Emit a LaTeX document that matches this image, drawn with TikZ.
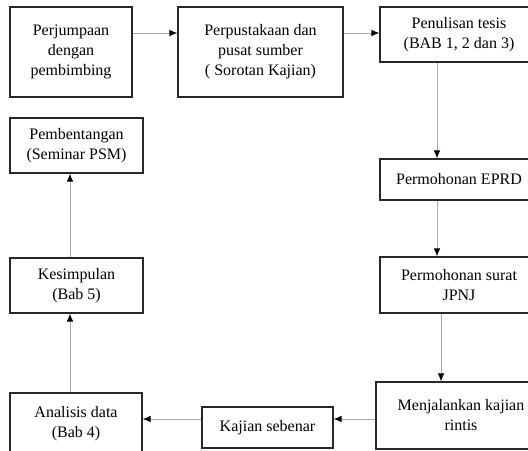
\documentclass[tikz,border=0pt]{standalone}
\usepackage{fontspec}
\setmainfont{Liberation Serif}
\usetikzlibrary{arrows.meta}

\tikzset{
  box/.style={draw={rgb, 255:red, 40; green, 40; blue, 40}, line width=0.9pt, rectangle, align=center, inner sep=0.75pt, font=\fontsize{12}{15}\selectfont},
  flow/.style={draw={rgb, 255:red, 170; green, 170; blue, 170}, line width=0.75pt, -{Latex[length=6pt,width=5pt,color=black]}}
}

\begin{document}
\begin{tikzpicture}[x=0.75pt,y=0.75pt,yscale=-1,xscale=1]
%set diagram at 528 x 450
\path[use as bounding box, clip] (0,0) rectangle (528,450);

%Shape: Rectangle [id:jumpa] 
\node[box, minimum width=91.5pt, minimum height=67.5pt] (jumpa) at (71,52) {Perjumpaan\\dengan\\pembimbing};
%Shape: Rectangle [id:pustaka] 
\node[box, minimum width=123.75pt, minimum height=67.5pt] (pustaka) at (260.5,52) {Perpustakaan dan\\pusat sumber\\( Sorotan Kajian)};
%Shape: Rectangle [id:tesis] 
\node[box, minimum width=118.5pt, minimum height=41.25pt] (tesis) at (459,34.5) {Penulisan tesis\\(BAB 1, 2 dan 3)};
%Shape: Rectangle [id:eprd] 
\node[box, minimum width=118.5pt, minimum height=30.75pt] (eprd) at (459,179.5) {Permohonan EPRD};
%Shape: Rectangle [id:surat] 
\node[box, minimum width=118.5pt, minimum height=42pt] (surat) at (459,285) {Permohonan surat\\JPNJ};
%Shape: Rectangle [id:rintis] 
\node[box, minimum width=127.5pt, minimum height=50.25pt] (rintis) at (461,415.5) {Menjalankan kajian\\rintis};
%Shape: Rectangle [id:sebenar] 
\node[box, minimum width=98.25pt, minimum height=30.75pt] (sebenar) at (267.5,427.5) {Kajian sebenar};
%Shape: Rectangle [id:analisis] 
\node[box, minimum width=99pt, minimum height=46.5pt] (analisis) at (76,424) {Analisis data\\(Bab 4)};
%Shape: Rectangle [id:simpul] 
\node[box, minimum width=99.75pt, minimum height=41.25pt] (simpul) at (76.5,285.5) {Kesimpulan\\(Bab 5)};
%Shape: Rectangle [id:bentang] 
\node[box, minimum width=99.75pt, minimum height=41.25pt] (bentang) at (76.5,145.5) {Pembentangan\\(Seminar PSM)};

%rows and columns of the connectors
\coordinate (toprow) at (0,33);
\coordinate (botrow) at (0,419);
\coordinate (rcol) at (437,0);
\coordinate (rcolb) at (441,0);
\coordinate (lcol) at (70,0);

%Straight Lines [id:jumpa-pustaka] 
\draw[flow] (jumpa.east |- toprow) -- (pustaka.west |- toprow);
%Straight Lines [id:pustaka-tesis] 
\draw[flow] (pustaka.east |- toprow) -- (tesis.west |- toprow);
%Straight Lines [id:tesis-eprd] 
\draw[flow] (tesis.south -| rcol) -- (eprd.north -| rcol);
%Straight Lines [id:eprd-surat] 
\draw[flow] (eprd.south -| rcol) -- (surat.north -| rcol);
%Straight Lines [id:surat-rintis] 
\draw[flow] (surat.south -| rcolb) -- (rintis.north -| rcolb);
%Straight Lines [id:rintis-sebenar] 
\draw[flow] (rintis.west |- botrow) -- (sebenar.east |- botrow);
%Straight Lines [id:sebenar-analisis] 
\draw[flow] (sebenar.west |- botrow) -- (analisis.east |- botrow);
%Straight Lines [id:analisis-simpul] 
\draw[flow] (analisis.north -| lcol) -- (simpul.south -| lcol);
%Straight Lines [id:simpul-bentang] 
\draw[flow] (simpul.north -| lcol) -- (bentang.south -| lcol);

\end{tikzpicture}
\end{document}
